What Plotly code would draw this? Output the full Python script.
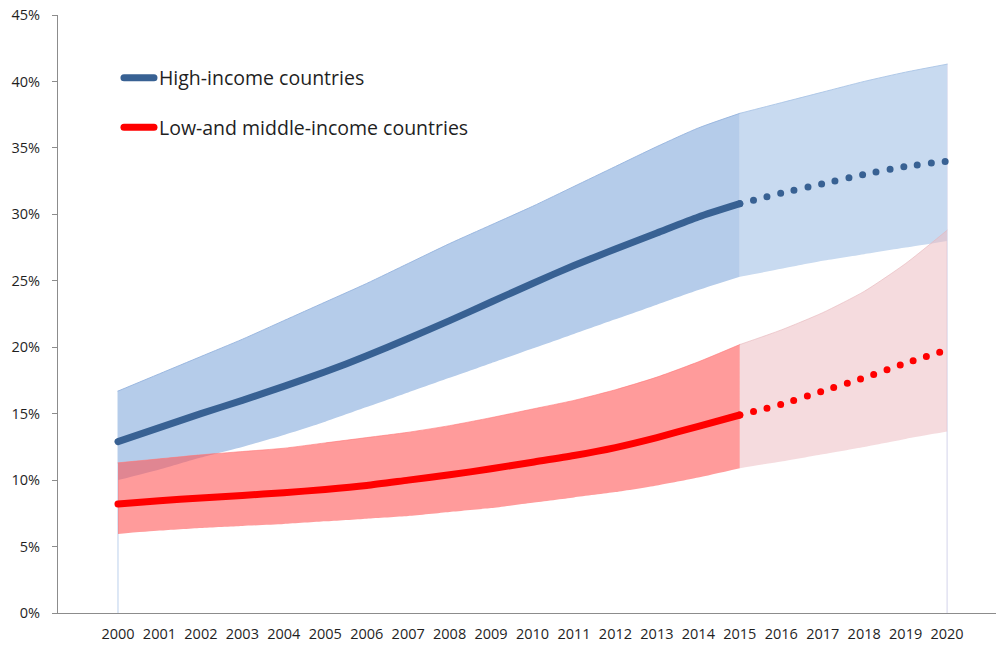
import plotly.graph_objects as go

years_hist = list(range(2000, 2016))
years_proj = list(range(2015, 2021))
tick_years = list(range(2000, 2021))

# High-income countries
hi_line = [12.9, 13.95, 15.0, 16.0, 17.05, 18.15, 19.35, 20.65, 22.0, 23.4, 24.8, 26.15, 27.4, 28.6, 29.8, 30.8]
hi_upper = [16.7, 18.0, 19.3, 20.6, 22.0, 23.4, 24.8, 26.3, 27.8, 29.2, 30.6, 32.1, 33.6, 35.1, 36.5, 37.6]
hi_lower = [10.0, 10.8, 11.7, 12.5, 13.4, 14.4, 15.5, 16.6, 17.7, 18.8, 19.9, 21.0, 22.1, 23.2, 24.3, 25.3]
hi_line_p = [30.8, 31.6, 32.3, 33.0, 33.6, 34.0]
hi_upper_p = [37.6, 38.4, 39.2, 40.0, 40.7, 41.3]
hi_lower_p = [25.3, 25.9, 26.5, 27.0, 27.5, 28.0]

# Low- and middle-income countries
lo_line = [8.2, 8.45, 8.65, 8.85, 9.05, 9.3, 9.6, 10.0, 10.4, 10.85, 11.35, 11.85, 12.45, 13.2, 14.05, 14.9]
lo_upper = [11.3, 11.6, 11.9, 12.15, 12.4, 12.8, 13.2, 13.6, 14.1, 14.7, 15.35, 16.0, 16.8, 17.75, 18.9, 20.2]
lo_lower = [5.95, 6.2, 6.4, 6.55, 6.7, 6.9, 7.1, 7.3, 7.6, 7.9, 8.3, 8.7, 9.1, 9.6, 10.2, 10.9]
lo_line_p = [14.9, 15.7, 16.7, 17.7, 18.8, 19.8]
lo_upper_p = [20.2, 21.3, 22.6, 24.2, 26.3, 28.8]
lo_lower_p = [10.9, 11.4, 11.95, 12.5, 13.1, 13.65]

y_ticks = [0, 5, 10, 15, 20, 25, 30, 35, 40, 45]
y_tick_labels = [f"{v}%" for v in y_ticks]

series_names = ["High-income countries", "Low-and middle-income countries"]

BLUE = "#386193"
RED = "#ff0000"
FONT = "Open Sans"
TXT = "#1f1f1f"

fig = go.Figure()

def band(x, lo, up, fill, edge):
    fig.add_trace(go.Scatter(x=x, y=lo, mode="lines", line=dict(width=0, shape="spline", smoothing=0.6),
                             showlegend=False, hoverinfo="skip"))
    fig.add_trace(go.Scatter(x=x, y=up, mode="lines", fill="tonexty", fillcolor=fill,
                             line=dict(width=1, color=edge, shape="spline", smoothing=0.6),
                             showlegend=False, hoverinfo="skip"))

# thin border lines at chart ends
fig.add_trace(go.Scatter(x=[years_hist[0], years_hist[0]], y=[0, hi_upper[0]], mode="lines",
                         line=dict(width=1, color="#bcd0ec"), showlegend=False, hoverinfo="skip"))
fig.add_trace(go.Scatter(x=[years_proj[-1], years_proj[-1]], y=[0, hi_upper_p[-1]], mode="lines",
                         line=dict(width=1, color="#d3d3ea"), showlegend=False, hoverinfo="skip"))

# bands
band(years_hist, hi_lower, hi_upper, "rgb(181,204,234)", "rgba(150,180,222,0.9)")
band(years_proj, hi_lower_p, hi_upper_p, "rgb(200,218,240)", "rgba(170,196,230,0.9)")
band(years_hist, lo_lower, lo_upper, "rgba(255,85,85,0.59)", "rgba(255,120,120,0.6)")
band(years_proj, lo_lower_p, lo_upper_p, "rgba(236,190,195,0.55)", "rgba(230,180,185,0.6)")

# lines
fig.add_trace(go.Scatter(x=years_hist, y=hi_line, mode="lines", name=series_names[0], legendgroup="hi",
                         line=dict(color=BLUE, width=7, shape="spline", smoothing=0.6), hoverinfo="skip"))
fig.add_trace(go.Scatter(x=years_proj, y=hi_line_p, mode="lines", showlegend=False,
                         line=dict(color=BLUE, width=7, dash="0px,14px", shape="spline", smoothing=0.6),
                         hoverinfo="skip"))
fig.add_trace(go.Scatter(x=years_hist, y=lo_line, mode="lines", name=series_names[1], legendgroup="lo",
                         line=dict(color=RED, width=7, shape="spline", smoothing=0.6), hoverinfo="skip"))
fig.add_trace(go.Scatter(x=years_proj, y=lo_line_p, mode="lines", showlegend=False,
                         line=dict(color=RED, width=7, dash="0px,14px", shape="spline", smoothing=0.6),
                         hoverinfo="skip"))

fig.update_layout(
    width=996, height=648,
    margin=dict(l=58, r=0, t=15, b=35),
    paper_bgcolor="white", plot_bgcolor="white",
    font=dict(family=FONT, color=TXT),
    legend=dict(x=0.065, y=0.927, xanchor="left", yanchor="top", bgcolor="rgba(0,0,0,0)",
                font=dict(size=19.5, family=FONT, color=TXT), tracegroupgap=21,
                itemwidth=30),
    showlegend=True,
)
fig.update_xaxes(range=[1998.553, 2021.18], tickmode="array", tickvals=tick_years,
                 ticktext=[str(y) for y in tick_years], showgrid=False, zeroline=False,
                 showline=True, linecolor="#8c8c8c", linewidth=1, ticks="",
                 tickfont=dict(size=14.5, family=FONT, color=TXT), ticklabelstandoff=8)
fig.update_yaxes(range=[0, 45], tickmode="array", tickvals=y_ticks, ticktext=y_tick_labels,
                 showgrid=False, zeroline=False, showline=True, linecolor="#8c8c8c", linewidth=1,
                 ticks="outside", ticklen=5, tickcolor="#8c8c8c",
                 tickfont=dict(size=14.5, family=FONT, color=TXT), ticklabelstandoff=9)

post = """
document.body.style.margin='0';
var gd = document.getElementById('{plot_id}');
function rc(){ gd.querySelectorAll('path.js-line').forEach(function(p){p.style.strokeLinecap='round';p.style.strokeLinejoin='round';}); }
rc(); gd.on('plotly_afterplot', rc);
"""
fig.write_html("out.html", post_script=post, config={"displayModeBar": False})
